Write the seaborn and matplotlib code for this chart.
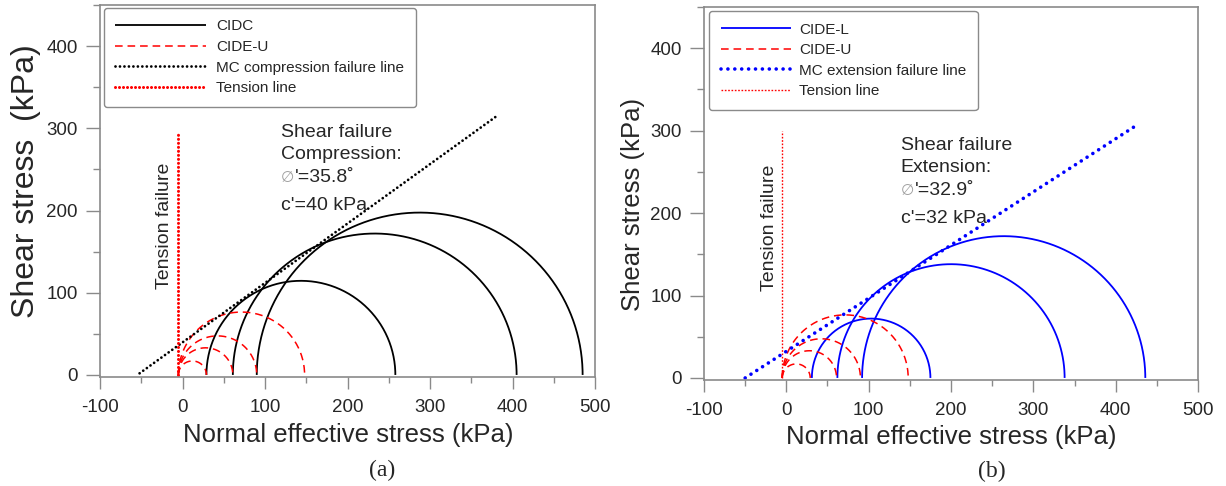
import numpy as np
import pandas as pd
import matplotlib
matplotlib.use("Agg")
import matplotlib.pyplot as plt
from matplotlib.ticker import MultipleLocator
import seaborn as sns

# ---------------- data ----------------
# Mohr circles given by (sigma3, sigma1) in kPa
cidc_s3 = [29, 61, 90]
cidc_s1 = [258, 405, 485]
cideu_s3 = [-5, -5, -5, -5]
cideu_s1 = [29, 61, 90, 148]
cidel_s3 = [31, 62, 92]
cidel_s1 = [175, 338, 436]

# failure lines (end points)
mc_comp_x = [-52, 381]
mc_comp_y = [2, 315]
mc_ext_x = [-50, 423]
mc_ext_y = [0, 305]
tension_a_x = [-5, -5]
tension_a_y = [0, 295]
tension_b_x = [-5, -5]
tension_b_y = [0, 300]

x_ticks = [-100, 0, 100, 200, 300, 400, 500]
y_ticks = [0, 100, 200, 300, 400]

# ---------------- style ----------------
sns.set_style("white")
plt.rcParams["font.family"] = ["Liberation Sans", "DejaVu Sans"]
plt.rcParams["lines.solid_capstyle"] = "butt"
plt.rcParams["axes.unicode_minus"] = False

SPINE = "#8a8a8a"
RED = "#ff0000"
BLUE = "#0000ff"


def circle_frame(s3, s1):
    rows = []
    for i, (a, b) in enumerate(zip(s3, s1)):
        c = (a + b) / 2.0
        r = (b - a) / 2.0
        th = np.linspace(np.pi, 0, 240)
        for t in th:
            rows.append((i, c + r * np.cos(t), r * np.sin(t)))
    return pd.DataFrame(rows, columns=["circle", "x", "y"])


def draw_circles(ax, s3, s1, color, label, **kw):
    df = circle_frame(s3, s1)
    first = True
    for i, g in df.groupby("circle"):
        sns.lineplot(data=g, x="x", y="y", sort=False, estimator=None,
                     color=color, ax=ax, label=label if first else None, **kw)
        first = False


def style_axes(ax, ylab, ylab_size, ylab_coords, xlab_coords):
    ax.set_xlim(-100, 500)
    ax.set_ylim(-2.5, 450)
    ax.set_xticks(x_ticks)
    ax.set_yticks(y_ticks)
    ax.xaxis.set_minor_locator(MultipleLocator(50))
    ax.yaxis.set_minor_locator(MultipleLocator(50))
    for s in ax.spines.values():
        s.set_color(SPINE)
        s.set_linewidth(1.2)
        s.set_visible(True)
    ax.tick_params(axis="x", which="major", direction="out", length=8.5,
                   width=1, color=SPINE, labelsize=13.5, pad=7, bottom=True)
    ax.tick_params(axis="x", which="minor", direction="out", length=4.5,
                   width=1, color=SPINE, bottom=True)
    ax.tick_params(axis="y", which="major", direction="out", length=10,
                   width=1, color=SPINE, labelsize=13.5, pad=6, left=True)
    ax.tick_params(axis="y", which="minor", direction="out", length=5,
                   width=1, color=SPINE, left=True)
    ax.set_xlabel("Normal effective stress (kPa)", fontsize=18.5)
    ax.set_ylabel(ylab, fontsize=ylab_size)
    ax.yaxis.set_label_coords(*ylab_coords)
    ax.xaxis.set_label_coords(*xlab_coords)


def style_legend(ax, anchor, handlelength, handletextpad):
    leg = ax.legend(loc="upper left", bbox_to_anchor=anchor,
                    borderaxespad=0, fontsize=11, handlelength=handlelength,
                    handletextpad=handletextpad, labelspacing=0.43,
                    borderpad=0.75, frameon=True, fancybox=True)
    leg.get_frame().set_edgecolor(SPINE)
    leg.get_frame().set_linewidth(1.0)
    leg.get_frame().set_alpha(1)
    return leg


fig = plt.figure(figsize=(12.26, 4.86), dpi=100)
axL = fig.add_axes([100 / 1226, 1 - 377 / 486, 495 / 1226, 372 / 486])
axR = fig.add_axes([704 / 1226, 1 - 380 / 486, 494 / 1226, 373 / 486])

# ---------------- left panel ----------------
draw_circles(axL, cidc_s3, cidc_s1, "black", "CIDC", linewidth=1.3)
draw_circles(axL, cideu_s3, cideu_s1, RED, "CIDE-U", linewidth=1.1,
             linestyle=(0, (5, 3.2)))
sns.lineplot(x=mc_comp_x, y=mc_comp_y, sort=False, estimator=None, ax=axL,
             color="black", linewidth=2.0, linestyle=(0, (0.01, 1.6)),
             dash_capstyle="round", label="MC compression failure line")
sns.lineplot(x=tension_a_x, y=tension_a_y, sort=False, estimator=None, ax=axL,
             color=RED, linewidth=2.2, linestyle=(0, (0.01, 1.3)),
             dash_capstyle="round", label="Tension line")
style_axes(axL, "Shear stress  (kPa)", 23, (-0.12, 0.527), (0.501, -0.124))

axL.text(-22, 182, "Tension failure", rotation=90, ha="center", va="center",
         fontsize=14)
axL.text(119, 289.5, "Shear failure", fontsize=14, va="baseline")
axL.text(119, 263, "Compression:", fontsize=14, va="baseline")
axL.text(119, 235, "\u2205", fontsize=11, va="baseline", color="#a0a0a0",
         family=["DejaVu Sans"])
axL.annotate("'=35.8\u02da", xy=(119, 235), xytext=(10.5, 0),
             textcoords="offset points", fontsize=14, va="baseline")
axL.text(119, 200.5, "c'=40 kPa", fontsize=14, va="baseline")

style_legend(axL, (0.008, 0.992), 5.9, 0.7)

# ---------------- right panel ----------------
draw_circles(axR, cidel_s3, cidel_s1, BLUE, "CIDE-L", linewidth=1.3)
draw_circles(axR, cideu_s3, cideu_s1, RED, "CIDE-U", linewidth=1.1,
             linestyle=(0, (5, 3.2)))
sns.lineplot(x=mc_ext_x, y=mc_ext_y, sort=False, estimator=None, ax=axR,
             color=BLUE, linewidth=2.6, linestyle=(0, (0.01, 1.9)),
             dash_capstyle="round", label="MC extension failure line")
sns.lineplot(x=tension_b_x, y=tension_b_y, sort=False, estimator=None, ax=axR,
             color=RED, linewidth=1.0, linestyle=(0, (1.2, 1.2)),
             label="Tension line")
style_axes(axR, "Shear stress (kPa)", 18.5, (-0.119, 0.47), (0.501, -0.121))

axR.text(-20, 182, "Tension failure", rotation=90, ha="center", va="center",
         fontsize=14)
axR.text(139, 276.7, "Shear failure", fontsize=14, va="baseline")
axR.text(139, 250.4, "Extension:", fontsize=14, va="baseline")
axR.text(139, 222, "\u2205", fontsize=11, va="baseline", color="#a0a0a0",
         family=["DejaVu Sans"])
axR.annotate("'=32.9\u02da", xy=(139, 222), xytext=(10.5, 0),
             textcoords="offset points", fontsize=14, va="baseline")
axR.text(139, 188, "c'=32 kPa", fontsize=14, va="baseline")

style_legend(axR, (0.011, 0.989), 4.6, 0.5)

# captions
fig.text(382 / 1226, 1 - 470 / 486, "(a)", ha="center", va="center",
         fontsize=17, family=["Liberation Serif", "DejaVu Serif"])
fig.text(992 / 1226, 1 - 471 / 486, "(b)", ha="center", va="center",
         fontsize=17, family=["Liberation Serif", "DejaVu Serif"])

fig.savefig("out.png", dpi=100)
